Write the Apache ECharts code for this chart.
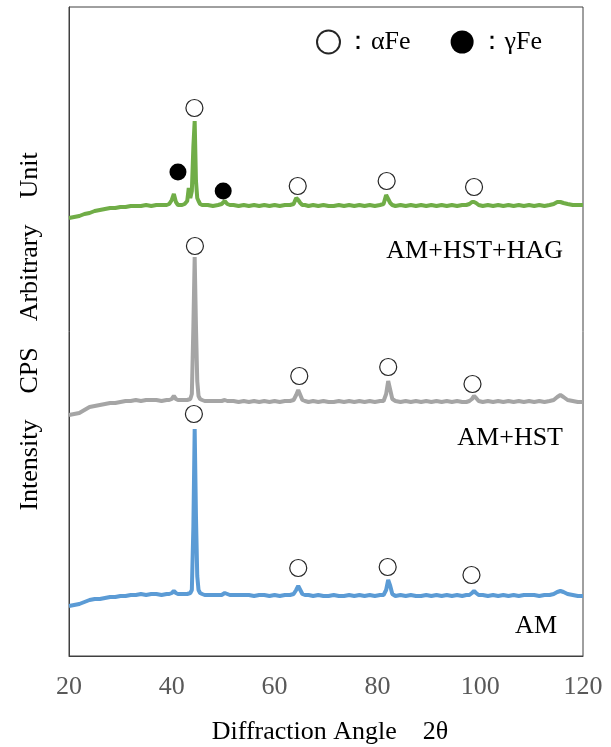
<!DOCTYPE html>
<html>
<head>
<meta charset="utf-8">
<script src="https://cdn.jsdelivr.net/npm/echarts@6/dist/echarts.min.js"></script>
<style>
  html, body { margin: 0; padding: 0; background: #fff; }
  #main { width: 611px; height: 747px; }
</style>
</head>
<body>
<div id="main"></div>
<script>
// diffraction angle 2θ (deg), shared by the three patterns
const angles = [
  20, 21, 22, 23, 24, 25, 26, 27, 28, 29, 30, 31, 32, 33, 34, 35, 36, 37, 38, 39,
  39.5, 40, 40.4, 40.8, 41.2, 41.6, 42, 42.5, 43, 43.3, 43.6, 43.9, 44.2, 44.45, 44.7, 44.95, 45.2, 45.5, 45.9, 46.4, 47, 48, 49,
  49.7, 50.3, 50.8, 51.3, 52, 53, 54, 55, 56, 57, 58, 59, 60, 61, 62, 63,
  63.7, 64.2, 64.6, 65.0, 65.4, 65.9, 66.6, 67.5, 68.5, 69.5, 70.5, 71.5, 72.5, 73.5, 74.5, 75.5, 76.5, 77.5, 78.5, 79.5, 80.5,
  81.2, 81.7, 82.1, 82.5, 82.9, 83.5, 84.5, 85.5, 86.5, 87.5, 88.5, 89.5, 90.5, 91.5, 92.5, 93.5, 94.5, 95.5, 96.5, 97.3,
  97.9, 98.4, 98.8, 99.2, 99.7, 100.5, 101.5, 102.5, 103.5, 104.5, 105.5, 106.5, 107.5, 108.5, 109.5, 110.5, 111.5, 112.5, 113.5, 114.3, 115, 115.6, 116.2, 117, 118, 119, 120
];

// intensities (arbitrary unit, already stacked with offsets)
const amIntensity = [
  50, 51, 52, 54, 56, 57, 57, 58, 59, 59, 60, 60, 61, 61, 62, 61, 62, 62, 61, 62,
  62, 63, 65, 63, 62, 62, 62, 62, 62, 63, 63, 66, 130, 227, 140, 80, 66, 63, 62, 61, 61, 61, 61,
  61, 63, 62, 61, 61, 61, 61, 61, 60, 61, 61, 60, 61, 60, 61, 61,
  62, 66, 70, 66, 62, 61, 61, 60, 61, 60, 60, 61, 60, 60, 61, 60, 61, 60, 61, 60, 61,
  61, 66, 76, 70, 62, 60, 61, 60, 61, 60, 60, 61, 60, 61, 60, 61, 60, 61, 60, 61,
  61, 63, 65, 63, 61, 61, 60, 61, 60, 61, 60, 61, 60, 61, 61, 61, 60, 61, 61, 62, 64, 65, 64, 62, 61, 60, 60
];
const hstIntensity = [
  241, 242, 243, 246, 249, 250, 251, 252, 253, 253, 254, 255, 255, 256, 255, 256, 256, 256, 255, 256,
  256, 257, 260, 257, 256, 256, 256, 256, 256, 256, 257, 262, 330, 399, 330, 275, 260, 257, 256, 255, 255, 255, 255,
  255, 256, 255, 255, 255, 254, 255, 254, 255, 254, 255, 254, 255, 254, 255, 255,
  256, 261, 266, 261, 256, 255, 254, 255, 254, 255, 254, 254, 255, 254, 255, 254, 255, 254, 255, 254, 255,
  255, 262, 275, 266, 257, 255, 254, 255, 254, 255, 254, 255, 254, 255, 254, 255, 254, 255, 254, 254,
  255, 257, 260, 258, 255, 254, 255, 254, 255, 254, 255, 254, 255, 254, 255, 254, 255, 254, 255, 256, 259, 261, 259, 256, 255, 254, 254
];
const hagIntensity = [
  438, 439, 440, 442, 443, 445, 446, 447, 448, 448, 449, 449, 450, 450, 450, 451, 450, 451, 451, 451,
  452, 456, 462, 454, 451, 451, 451, 452, 455, 468, 458, 465, 510, 535, 475, 458, 455, 452, 451, 451, 451, 450, 451,
  452, 455, 452, 451, 451, 450, 451, 450, 451, 450, 451, 450, 451, 450, 451, 451,
  452, 458, 456, 453, 451, 451, 450, 451, 450, 451, 450, 450, 451, 450, 451, 450, 451, 450, 451, 450, 451,
  452, 461, 457, 453, 451, 450, 451, 450, 451, 450, 451, 450, 451, 450, 451, 450, 451, 450, 451, 451,
  452, 454, 454, 453, 451, 450, 451, 450, 451, 450, 451, 450, 451, 450, 451, 450, 451, 450, 451, 452, 454, 454, 453, 452, 451, 451, 451
];

// peak markers [angle, level]
const alphaFeMarks = [
  [44.4, 548], [64.5, 470], [81.8, 475], [98.8, 469],
  [44.5, 410], [64.8, 280], [82.1, 289], [98.5, 272],
  [44.3, 242], [64.6, 88], [82.0, 89], [98.3, 81]
];
const gammaFeMarks = [[41.2, 484], [50.0, 465]];

const xTicks = [20, 40, 60, 80, 100, 120];

const serif = "'Times New Roman', 'Liberation Serif', serif";

const zip = (xs, ys) => xs.map((x, i) => [x, ys[i]]);

const lineSeries = (name, data, color) => ({
  name: name,
  type: 'line',
  data: zip(angles, data),
  showSymbol: false,
  symbol: 'none',
  lineStyle: { color: color, width: 4 },
  z: 2
});

const myChart = echarts.init(document.getElementById('main'));

myChart.setOption({
  animation: false,
  grid: {
    left: 69,
    right: 28,
    top: 7,
    bottom: 91,
    show: true,
    borderColor: '#404040',
    borderWidth: 1,
    containLabel: false,
    outerBoundsMode: 'none'
  },
  legend: {
    data: ['αFe', 'γFe'],
    left: 311,
    top: 24,
    itemWidth: 23,
    itemHeight: 23,
    itemGap: 40,
    formatter: '：{name}',
    textStyle: { fontFamily: serif, fontSize: 26, color: '#000', padding: [0, 0, 0, 0] }
  },
  xAxis: {
    type: 'value',
    min: 20,
    max: 120,
    interval: 20,
    name: 'Diffraction Angle\u30002θ',
    nameLocation: 'middle',
    nameGap: 63,
    nameTextStyle: { fontFamily: serif, fontSize: 26, color: '#000', padding: [0, 0, 0, 8] },
    axisLine: { show: true, lineStyle: { color: '#404040', width: 1 } },
    axisTick: { show: false },
    splitLine: { show: false },
    axisLabel: {
      margin: 18,
      fontFamily: serif,
      fontSize: 26,
      color: '#595959',
      formatter: v => (xTicks.includes(v) ? String(v) : '')
    }
  },
  yAxis: {
    type: 'value',
    min: 0,
    max: 649,
    name: 'Intensity\u3000CPS\u3000Arbitrary\u3000Unit',
    nameLocation: 'middle',
    nameGap: 26,
    nameTextStyle: { fontFamily: serif, fontSize: 26, color: '#000' },
    axisLine: { show: true, lineStyle: { color: '#404040', width: 1 } },
    axisTick: { show: false },
    axisLabel: { show: false },
    splitLine: { show: false }
  },
  graphic: [
    { type: 'text', right: 48, top: 238, style: { text: 'AM+HST+HAG', font: '26px ' + serif, fill: '#000' } },
    { type: 'text', right: 48, top: 425, style: { text: 'AM+HST', font: '26px ' + serif, fill: '#000' } },
    { type: 'text', right: 54, top: 613, style: { text: 'AM', font: '26px ' + serif, fill: '#000' } }
  ],
  series: [
    lineSeries('AM', amIntensity, '#5B9BD5'),
    lineSeries('AM+HST', hstIntensity, '#A5A5A5'),
    lineSeries('AM+HST+HAG', hagIntensity, '#70AD47'),
    {
      name: 'αFe',
      type: 'scatter',
      data: alphaFeMarks,
      symbol: 'circle',
      symbolSize: 17,
      itemStyle: { color: '#fff', borderColor: '#262626', borderWidth: 1.2, opacity: 1 },
      z: 5
    },
    {
      name: 'γFe',
      type: 'scatter',
      data: gammaFeMarks,
      symbol: 'circle',
      symbolSize: 17,
      itemStyle: { color: '#000', opacity: 1 },
      z: 5
    }
  ]
});
</script>
</body>
</html>
